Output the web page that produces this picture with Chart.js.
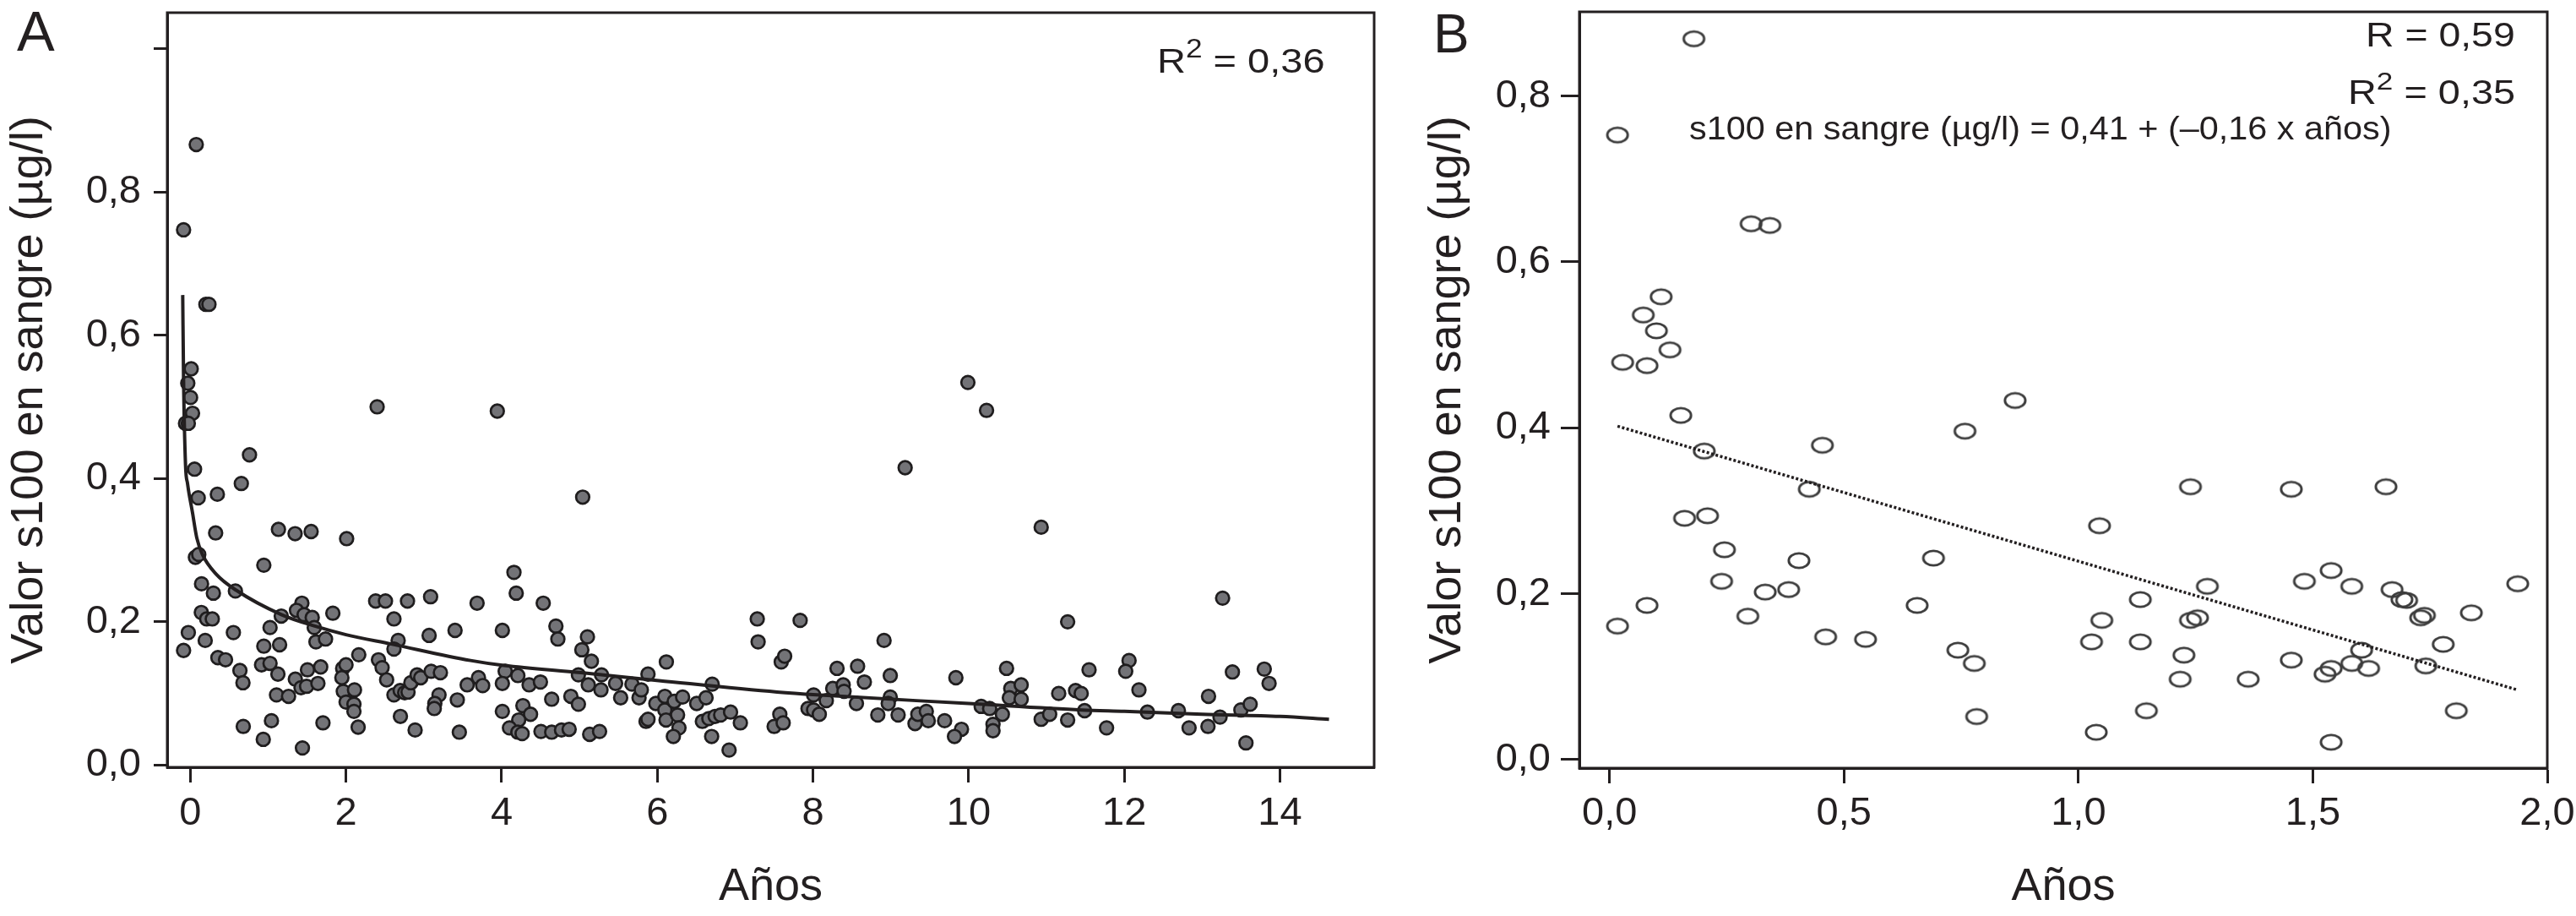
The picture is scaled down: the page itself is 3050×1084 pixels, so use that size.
<!DOCTYPE html>
<html><head><meta charset="utf-8">
<script src="https://cdn.jsdelivr.net/npm/chart.js@4.4.1/dist/chart.umd.min.js"></script>
<style>
html,body{margin:0;padding:0;background:#fff;}
body{width:3050px;height:1084px;position:relative;overflow:hidden;font-family:"Liberation Sans",Arial,sans-serif;color:#231f20;}
canvas{position:absolute;top:0;}
.t{position:absolute;line-height:1;white-space:nowrap;transform-origin:0 0;}
.sup{position:relative;top:-0.58em;font-size:0.75em;}
</style></head><body>
<canvas id="cA" width="1700" height="1084" style="left:0;width:1700px;height:1084px"></canvas>
<canvas id="cB" width="1390" height="1084" style="left:1660px;width:1390px;height:1084px"></canvas>
<div class="t" style="left:20px;top:3px;font-size:67px">A</div>
<div class="t" style="left:1697px;top:8px;font-size:64px">B</div>
<div class="t" style="left:1370px;top:52px;font-size:41px;transform:scaleX(1.146)">R<span class="sup">2</span> = 0,36</div>
<div class="t" style="left:2801px;top:21px;font-size:40px;transform:scaleX(1.16)">R = 0,59</div>
<div class="t" style="left:2780px;top:89px;font-size:40px;transform:scaleX(1.172)">R<span class="sup">2</span> = 0,35</div>
<div class="t" style="left:2000px;top:132px;font-size:39.5px;transform:scaleX(1.048)">s100 en sangre (µg/l) = 0,41 + (–0,16 x años)</div>
<script>
// ---------- Panel A data (años, s100 µg/l) ----------
const agesA = [
0.076,-0.087,0.20,0.239,0.011,-0.033,0.003,0.028,-0.062,-0.026,2.40,3.944,0.76,9.99,10.23,
0.054,0.655,0.101,0.347,0.325,1.132,1.346,1.552,2.008,0.065,0.108,0.944,0.144,0.296,0.579,1.433,1.364,1.462,1.566,1.592,1.168,1.831,0.141,0.210,0.282,-0.026,0.191,0.553,1.024,-0.087,0.354,0.452,0.637,0.676,0.944,1.147,0.915,1.024,1.125,1.614,1.737,1.349,1.505,1.675,1.422,1.494,1.639,1.107,1.262,0.680,1.042,0.937,1.440,1.704,1.957,2.000,2.164,1.947,1.965,2.109,2.001,2.102,2.102,2.156,2.381,2.507,2.790,3.087,2.616,2.670,2.616,3.068,3.401,2.417,2.464,2.522,2.616,2.696,2.754,2.797,2.833,2.913,2.960,3.094,3.213,3.195,3.141,3.134,2.699,2.888,3.430,3.557,3.456,
5.041,4.158,4.187,3.684,4.534,4.009,4.697,4.722,5.102,5.030,5.153,6.116,7.284,7.295,3.702,3.756,4.045,4.009,4.208,4.353,4.498,4.643,4.889,4.986,4.986,5.113,5.283,5.276,5.464,5.529,5.674,5.765,5.794,5.880,4.009,4.273,4.371,4.219,4.100,4.208,4.263,4.505,4.643,4.769,4.867,5.131,5.258,5.855,5.880,5.981,6.097,6.097,6.112,6.217,6.260,6.325,6.278,6.206,6.506,6.626,6.705,6.579,6.662,6.742,6.814,6.941,7.067,6.698,6.922,
9.184,10.932,11.272,7.835,8.913,7.592,7.636,8.309,8.573,8.660,8.993,9.836,10.487,8.008,8.254,8.388,8.399,8.171,8.558,8.993,8.967,7.936,8.008,8.081,7.574,7.501,7.617,8.833,9.094,9.311,9.347,9.456,9.481,9.691,9.908,9.818,10.161,10.270,10.433,10.313,10.313,10.541,10.523,10.675,10.675,11.157,11.374,10.932,11.041,11.272,
13.263,12.061,12.018,11.547,13.389,13.798,13.860,11.446,12.188,13.082,11.490,11.772,12.297,12.695,12.832,13.075,13.230,13.498,13.617,13.563
];
const s100A = [
0.866,0.747,0.643,0.643,0.553,0.533,0.513,0.491,0.477,0.477,0.500,0.494,0.433,0.534,0.495,
0.413,0.393,0.373,0.378,0.324,0.329,0.323,0.326,0.316,0.290,0.294,0.279,0.253,0.240,0.243,0.226,0.216,0.210,0.206,0.192,0.208,0.212,0.213,0.204,0.204,0.185,0.174,0.185,0.192,0.160,0.150,0.147,0.132,0.115,0.166,0.168,0.140,0.142,0.127,0.172,0.176,0.120,0.133,0.137,0.108,0.110,0.114,0.098,0.096,0.054,0.062,0.036,0.024,0.059,0.135,0.140,0.154,0.122,0.103,0.105,0.088,0.085,0.075,0.053,0.229,0.229,0.229,0.235,0.204,0.174,0.162,0.181,0.188,0.147,0.136,0.119,0.098,0.104,0.101,0.102,0.115,0.126,0.122,0.131,0.129,0.098,0.086,0.079,0.068,0.049,0.091,0.112,0.046,
0.374,0.269,0.240,0.226,0.226,0.188,0.194,0.176,0.179,0.161,0.145,0.144,0.204,0.172,0.122,0.111,0.131,0.114,0.125,0.112,0.116,0.092,0.096,0.085,0.126,0.112,0.126,0.105,0.114,0.094,0.113,0.094,0.105,0.127,0.075,0.083,0.071,0.063,0.052,0.046,0.044,0.047,0.046,0.049,0.050,0.043,0.047,0.061,0.064,0.086,0.096,0.077,0.063,0.089,0.070,0.095,0.052,0.040,0.086,0.094,0.113,0.061,0.065,0.068,0.070,0.074,0.059,0.040,0.021,
0.415,0.332,0.200,0.202,0.174,0.144,0.152,0.135,0.138,0.116,0.125,0.122,0.135,0.098,0.107,0.112,0.103,0.090,0.086,0.095,0.086,0.079,0.077,0.071,0.071,0.054,0.059,0.070,0.070,0.058,0.071,0.075,0.062,0.062,0.050,0.040,0.082,0.079,0.071,0.057,0.048,0.107,0.094,0.112,0.092,0.100,0.104,0.064,0.071,0.063,
0.233,0.146,0.131,0.133,0.130,0.134,0.114,0.100,0.105,0.096,0.076,0.052,0.074,0.076,0.052,0.054,0.067,0.077,0.085,0.031
];
// fitted curve of panel A
const curveAgesA = [-0.098,-0.087,-0.062,-0.036,0.028,0.083,0.155,0.336,0.59,1.17,1.6,2.0,2.58,3.6,4.03,5.02,6.02,7.54,8.05,10.0,11.45,12.0,13.0,14.0,14.63];
const curveS100A = [0.656,0.537,0.419,0.393,0.352,0.317,0.294,0.266,0.244,0.210,0.194,0.182,0.169,0.146,0.139,0.129,0.118,0.102,0.098,0.086,0.077,0.075,0.071,0.068,0.064];

// ---------- Panel B data ----------
const agesB = [0.180,0.017,0.302,0.342,0.110,0.072,0.100,0.129,0.028,0.080,0.865,0.152,0.758,0.454,0.202,0.426,1.239,1.454,1.656,0.160,0.209,1.045,0.245,0.691,0.404,0.239,1.482,1.539,1.275,1.583,1.669,1.937,0.332,0.382,1.690,1.700,1.132,0.656,0.080,0.295,0.017,1.050,1.239,1.254,1.730,1.738,1.838,0.461,0.546,1.028,1.132,0.743,1.604,1.778,0.778,1.225,1.454,1.583,1.619,1.741,1.539,1.526,1.217,1.362,1.145,1.806,0.783,1.038,1.539];
const s100B = [0.869,0.753,0.646,0.644,0.558,0.536,0.517,0.494,0.479,0.475,0.433,0.415,0.396,0.379,0.372,0.326,0.329,0.326,0.329,0.291,0.294,0.282,0.253,0.243,0.240,0.215,0.215,0.228,0.209,0.209,0.205,0.212,0.202,0.205,0.193,0.192,0.193,0.186,0.186,0.173,0.161,0.168,0.168,0.171,0.171,0.174,0.177,0.148,0.145,0.142,0.142,0.132,0.132,0.139,0.116,0.126,0.120,0.116,0.110,0.113,0.110,0.103,0.097,0.097,0.059,0.059,0.052,0.033,0.021];
// regression line of panel B, end points
const lineAgesB = [0.017, 1.937];
const lineS100B = [0.402, 0.084];

// ---------- Tick values ----------
const ticksAX = [0,2,4,6,8,10,12,14];
const ticksAY = [0,0.2,0.4,0.6,0.8,1.0];
const ticksBX = [0,0.5,1.0,1.5,2.0];
const ticksBY = [0,0.2,0.4,0.6,0.8];

const INK = '#231f20';
const FONT = '"Liberation Sans", Arial, sans-serif';
const comma = v => v.toFixed(1).replace('.', ',');
const pts = (xs, ys) => xs.map((x, i) => ({x, y: ys[i]}));

const framePlugin = {
  id: 'frame',
  afterDatasetsDraw(c) {
    const {ctx, chartArea: a} = c;
    ctx.save();
    ctx.strokeStyle = INK; ctx.lineWidth = 3;
    ctx.strokeRect(a.left, a.top, a.right - a.left, a.bottom - a.top);
    ctx.restore();
  }
};

function axisX(min, max, ticks, fmt, h, pad) {
  return {
    type: 'linear', min, max,
    afterBuildTicks: s => { s.ticks = ticks.map(v => ({value: v})); },
    afterFit: s => { s.height = h; s.paddingLeft = 0; s.paddingRight = 0; },
    border: {display: true, color: INK, width: 3},
    grid: {display: true, drawOnChartArea: false, drawTicks: true, tickLength: 18, tickWidth: 3, tickColor: INK},
    ticks: {color: INK, font: {family: FONT, size: 47}, padding: pad, maxRotation: 0, autoSkip: false, callback: fmt},
    title: {display: true, text: 'Años', color: INK, font: {family: FONT, size: 54, lineHeight: 1}, padding: {top: 0, bottom: 7}}
  };
}
function axisY(min, max, ticks, fmt, w, tl, pad, tpad) {
  return {
    type: 'linear', min, max,
    afterBuildTicks: s => { s.ticks = ticks.map(v => ({value: v})); },
    afterFit: s => { s.width = w; s.paddingTop = 0; s.paddingBottom = 0; },
    border: {display: true, color: INK, width: 3},
    grid: {display: true, drawOnChartArea: false, drawTicks: true, tickLength: tl, tickWidth: 3, tickColor: INK},
    ticks: {color: INK, font: {family: FONT, size: 47}, padding: pad, autoSkip: false, callback: fmt},
    title: {display: true, text: 'Valor s100 en sangre (µg/l)', color: INK, font: {family: FONT, size: 54, lineHeight: 1}, padding: {top: tpad, bottom: 0}}
  };
}

const common = {
  responsive: false, animation: false, devicePixelRatio: 1,
  plugins: {legend: {display: false}, tooltip: {enabled: false}}
};

new Chart(document.getElementById('cA'), {
  type: 'scatter',
  data: {datasets: [
    {type: 'line', data: pts(curveAgesA, curveS100A), borderColor: INK, borderWidth: 4, pointRadius: 0,
     fill: false, cubicInterpolationMode: 'monotone', order: 0},
    {data: pts(agesA, s100A), backgroundColor: '#737377', borderColor: '#1f1d1e', borderWidth: 2.7,
     pointRadius: 7.8, order: 1}
  ]},
  options: Object.assign({}, common, {
    layout: {padding: {left: 0, top: 15, right: 73, bottom: 0}},
    scales: {
      x: axisX(-0.297, 15.21, ticksAX, v => String(v), 176, 9),
      y: axisY(-0.003, 1.05, ticksAY, v => (v === 1 ? '' : comma(v)), 198, 16, 15, 8)
    }
  }),
  plugins: [framePlugin]
});

// open elliptical marker used by panel B
const ell = document.createElement('canvas');
ell.width = 30; ell.height = 23;
(function () {
  const g = ell.getContext('2d');
  g.strokeStyle = '#3c3c3c'; g.lineWidth = 2.9;
  g.beginPath(); g.ellipse(15, 11.5, 12.1, 8.6, 0, 0, Math.PI * 2); g.stroke();
})();

new Chart(document.getElementById('cB'), {
  type: 'scatter',
  data: {datasets: [
    {type: 'line', data: pts(lineAgesB, lineS100B), borderColor: '#231f20', borderWidth: 3.5, borderDash: [3, 2.5],
     pointRadius: 0, fill: false, order: 0},
    {data: pts(agesB, s100B), pointStyle: ell, pointRadius: 12, order: 1}
  ]},
  options: Object.assign({}, common, {
    layout: {padding: {left: 0, top: 14, right: 34, bottom: 0}},
    scales: {
      x: axisX(-0.0643, 2.0, ticksBX, v => comma(v), 175, 8),
      y: axisY(-0.0102, 0.9015, ticksBY, v => comma(v), 210, 22, 12, 27)
    }
  }),
  plugins: [framePlugin]
});
</script>
</body></html>
